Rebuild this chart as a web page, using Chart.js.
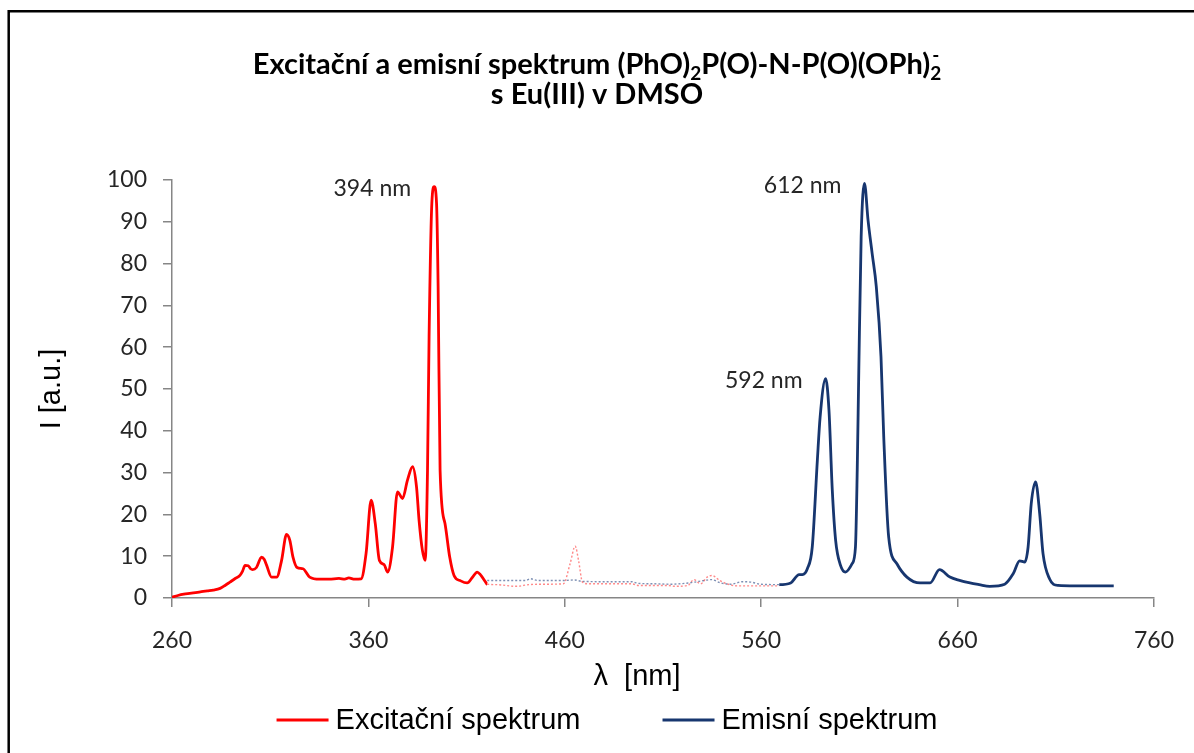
<!DOCTYPE html>
<html>
<head>
<meta charset="utf-8">
<script src="https://cdn.jsdelivr.net/npm/chart.js@4.4.1/dist/chart.umd.min.js"></script>
<style>
  html, body { margin: 0; background: #fff; }
  canvas { display: block; }
</style>
</head>
<body>
<canvas id="spectrum" width="1194" height="753"></canvas>
<script>
const seriesNames = ["Excitační spektrum", "Emisní spektrum"];

// excitation spectrum, nm / intensity (dotted after exDottedFrom)
const exNm = [260, 263, 266, 269, 272, 275, 278, 281, 284.5, 287, 289.5, 292, 294.6, 296, 297.2, 298.8, 300, 301, 303,
  305.6, 307, 308.2, 310.7, 313.3, 315.8, 318.3, 320, 321.6, 323.7, 326.7, 330.1, 335.2, 340, 345, 348, 350, 353, 356.3,
  358.8, 361.4, 363.5, 365.6, 368, 369.8, 372.3, 374.8, 377.4, 379.9, 382.5, 384.5, 385.8, 387.5, 388.9, 390.1, 390.9,
  392.3, 393.5, 394.7, 395.5, 396.5, 399, 401.4, 403.6, 407, 410.3, 412.9, 415.4, 417, 419.7, 420.5,
  425, 435, 442, 450, 459.3, 462.7, 465.3, 467, 469, 472, 485, 494, 497.5, 505, 512.5, 516, 522.7, 525.7, 529.1,
  532.5, 535, 538.8, 543.8, 548, 560, 569.2];
const exI = [0.2, 0.6, 0.9, 1.1, 1.3, 1.5, 1.7, 1.9, 2.3, 3.0, 3.8, 4.6, 5.4, 6.5, 7.8, 7.7, 7.0, 6.8, 7.3,
  9.8, 9.2, 7.8, 5.0, 5.0, 9.0, 15.2, 13.8, 9.8, 7.3, 7.0, 5.0, 4.5, 4.5, 4.7, 4.5, 4.8, 4.5, 4.6,
  10.6, 23.4, 17.8, 9.0, 8.0, 6.2, 12.2, 25.4, 23.8, 28.2, 31.4, 26.6, 18.6, 11.4, 9.0, 30.6, 62.5,
  94.4, 98.4, 94.4, 74.5, 30.6, 17.8, 9.8, 5.4, 4.1, 3.6, 4.9, 6.2, 5.6, 3.8, 3.3,
  3.2, 2.8, 3.2, 3.3, 3.4, 8.2, 12.4, 9.0, 3.8, 3.4, 3.4, 3.4, 3.0, 3.0, 3.0, 2.8, 3.0, 4.4, 3.4,
  5.0, 5.4, 4.2, 3.2, 2.9, 2.9, 2.9];

// emission spectrum, nm / intensity (dotted before emSolidFrom)
const emNm = [420.5, 430, 440, 442.5, 446, 460, 465, 468.5, 480, 494, 497.5, 505, 514.3, 521, 526, 531, 534.5, 539.5,
  544.6, 550.5, 554.7, 559.8, 569.2,
  575, 579.3, 581, 583.5, 586, 588.6, 590, 592.8, 594.5, 596.2, 597.9, 600.4, 602.9, 606.3, 608, 608.9, 609.7, 610.9,
  612.6, 614.4, 616.5, 618.6, 621, 622.4, 624.9, 629.1, 634.2, 640.9, 646, 650.8, 656.1, 661, 666.3, 671, 676.4, 684,
  688.3, 691.6, 694.2, 695.9, 697.5, 699.7, 701.8, 703.5, 706.8, 711.1, 720, 739.5];
const emI = [4.2, 4.2, 4.2, 4.6, 4.2, 4.2, 4.3, 4.0, 3.9, 3.9, 3.5, 3.4, 3.3, 3.5, 3.8, 4.2, 4.4, 3.6,
  3.3, 3.9, 3.8, 3.3, 3.2,
  3.6, 5.6, 5.6, 7.0, 12.2, 33, 43.3, 52.5, 45, 25.8, 13.8, 7.8, 6.2, 8.2, 12.2, 30.6, 54.5, 86.4,
  99.2, 90.4, 82.4, 74.5, 57.7, 38.5, 14.6, 8.2, 5.0, 3.6, 3.6, 6.8, 5.0, 4.2, 3.6, 3.2, 2.8, 3.3,
  5.8, 8.9, 8.6, 12.2, 22.6, 27.8, 20.2, 10.6, 4.6, 3.0, 2.9, 2.9];

const exDottedFrom = 420.5;
const emSolidFrom = 569.2;

const xTicks = [260, 360, 460, 560, 660, 760];
const peakNm = [393.5, 612.6, 592.8];
const peakI = [98.4, 99.2, 52.5];
const peakLabels = ["394 nm", "612 nm", "592 nm"];

const titleLine1 = [["Excitační a emisní spektrum (PhO)", ""], ["2", "sub"], ["P(O)-N-P(O)(OPh)", ""], ["2", "sub"], ["-", "sup"]];
const titleLine2 = "s Eu(III) v DMSO";
const xTitle = "λ  [nm]";

const red = "#ff0000";
const navy = "#17366f";
const axisGray = "#868686";
const tickFont = { family: "Lato", size: 23 };
const arial = "'Liberation Sans', Arial, sans-serif";

function toPoints(xs, ys) {
  return xs.map((x, i) => ({ x: x, y: ys[i] }));
}

// title with real sub/superscripts
const titlePlugin = {
  id: "richTitle",
  afterDraw(chart) {
    const c = chart.ctx;
    const big = "bold 29px Lato", small = "bold 19px Lato";
    c.save();
    c.fillStyle = "#000";
    c.textBaseline = "alphabetic";
    let w = 0;
    titleLine1.forEach(([t, kind]) => {
      if (kind === "sup") return;
      c.font = kind ? small : big;
      w += c.measureText(t).width;
    });
    let x = chart.width / 2 - w / 2;
    let lastX = x;
    titleLine1.forEach(([t, kind]) => {
      c.font = kind ? small : big;
      c.textAlign = "left";
      if (kind === "sup") {
        c.fillText(t, lastX + 2, 62);
        return;
      }
      lastX = x;
      c.fillText(t, x, kind === "sub" ? 80 : 74);
      x += c.measureText(t).width;
    });
    c.font = big;
    c.textAlign = "center";
    c.fillText(titleLine2, chart.width / 2, 104);

    // x axis title sits left of the plot centre, as in the original
    c.font = "29px " + arial;
    c.fillText(xTitle, 637, 685);
    c.restore();
  }
};

const peakLabelPlugin = {
  id: "peakLabels",
  afterDatasetsDraw(chart) {
    const c = chart.ctx, xs = chart.scales.x, ys = chart.scales.y;
    c.save();
    c.font = "23px Lato";
    c.fillStyle = "#262626";
    c.textAlign = "right";
    c.textBaseline = "middle";
    peakLabels.forEach((t, i) => {
      c.fillText(t, xs.getPixelForValue(peakNm[i]) - 23, ys.getPixelForValue(peakI[i]) + 2);
    });
    c.restore();
  }
};

const legendPlugin = {
  id: "bottomLegend",
  afterDraw(chart) {
    const c = chart.ctx;
    const lineLen = 52, gapText = 7, gapItem = 82, y = 721;
    c.save();
    c.font = "29px " + arial;
    c.textBaseline = "middle";
    c.textAlign = "left";
    const ds = chart.data.datasets;
    const widths = ds.map(d => lineLen + gapText + c.measureText(d.label).width);
    let x = 607 - (widths[0] + widths[1] + gapItem) / 2;
    ds.forEach((d, i) => {
      c.strokeStyle = d.borderColor;
      c.lineWidth = 3;
      c.beginPath();
      c.moveTo(x, y - 1);
      c.lineTo(x + lineLen, y - 1);
      c.stroke();
      c.fillStyle = "#000";
      c.fillText(d.label, x + lineLen + gapText, y);
      x += widths[i] + gapItem;
    });
    c.restore();
  }
};

const framePlugin = {
  id: "frame",
  beforeDraw(chart) {
    const c = chart.ctx;
    c.save();
    c.fillStyle = "#fff";
    c.fillRect(0, 0, chart.width, chart.height);
    c.strokeStyle = "#000";
    c.lineWidth = 2.5;
    c.beginPath();
    c.moveTo(8.7, chart.height);
    c.lineTo(8.7, 11.3);
    c.lineTo(chart.width, 11.3);
    c.stroke();
    c.restore();
  }
};

new Chart(document.getElementById("spectrum"), {
  type: "line",
  data: {
    datasets: [{
      label: seriesNames[0],
      data: toPoints(exNm, exI),
      borderColor: red,
      borderWidth: 2.8,
      pointRadius: 0,
      cubicInterpolationMode: "monotone",
      segment: {
        borderColor: ctx => ctx.p0.parsed.x >= exDottedFrom ? "rgba(255,40,40,0.55)" : undefined,
        borderDash: ctx => ctx.p0.parsed.x >= exDottedFrom ? [2, 2] : undefined,
        borderWidth: ctx => ctx.p0.parsed.x >= exDottedFrom ? 1.4 : undefined
      }
    }, {
      label: seriesNames[1],
      data: toPoints(emNm, emI),
      borderColor: navy,
      borderWidth: 2.8,
      pointRadius: 0,
      cubicInterpolationMode: "monotone",
      segment: {
        borderColor: ctx => ctx.p1.parsed.x <= emSolidFrom ? "rgba(40,70,130,0.6)" : undefined,
        borderDash: ctx => ctx.p1.parsed.x <= emSolidFrom ? [2, 2] : undefined,
        borderWidth: ctx => ctx.p1.parsed.x <= emSolidFrom ? 1.4 : undefined
      }
    }]
  },
  options: {
    responsive: false,
    devicePixelRatio: 1,
    animation: false,
    layout: { padding: { left: 0, right: 37, top: 180, bottom: 55 } },
    plugins: {
      legend: { display: false },
      title: { display: false },
      tooltip: { enabled: false }
    },
    scales: {
      x: {
        type: "linear",
        min: 260,
        max: 760,
        afterBuildTicks: s => { s.ticks = xTicks.map(v => ({ value: v })); },
        afterFit: s => { s.height = 100; },
        grid: { drawOnChartArea: false, tickLength: 9, color: axisGray, lineWidth: 1.5 },
        border: { color: axisGray, width: 1.5 },
        ticks: { font: tickFont, color: "#262626", padding: 20, maxRotation: 0 }
      },
      y: {
        min: 0,
        max: 100,
        afterFit: s => { s.width = 172; },
        grid: { drawOnChartArea: false, tickLength: 9, color: axisGray, lineWidth: 1.5 },
        border: { color: axisGray, width: 1.5 },
        ticks: { stepSize: 10, font: tickFont, color: "#262626", padding: 16 },
        title: {
          display: true,
          text: "I [a.u.]",
          color: "#000",
          font: { family: arial, size: 29 },
          padding: { top: 35, bottom: 0 }
        }
      }
    }
  },
  plugins: [framePlugin, titlePlugin, peakLabelPlugin, legendPlugin]
});
</script>
</body>
</html>
